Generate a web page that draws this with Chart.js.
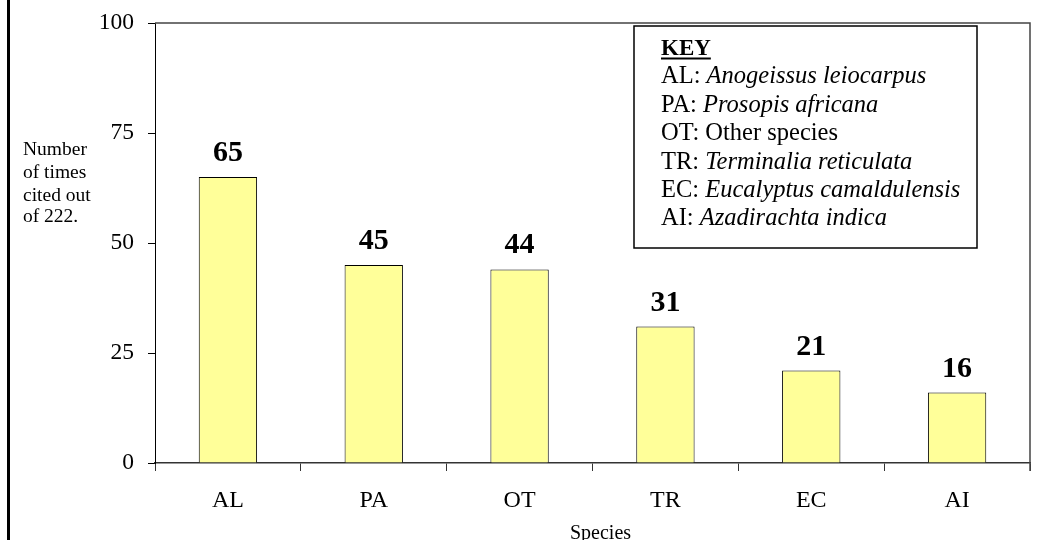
<!DOCTYPE html>
<html>
<head>
<meta charset="utf-8">
<script src="https://cdn.jsdelivr.net/npm/chart.js@4"></script>
<style>
  html, body { margin: 0; padding: 0; background: #fff; }
  #wrap { width: 1052px; height: 540px; position: relative; }
</style>
</head>
<body>
<div id="wrap"><canvas id="chart" width="1052" height="540"></canvas></div>
<script>
const categories = ['AL', 'PA', 'OT', 'TR', 'EC', 'AI'];
const timesCited = [65, 45, 44, 31, 21, 16];
const yMin = 0;
const yMax = 100;
const yStep = 25;
const keyCodes = ['AL', 'PA', 'OT', 'TR', 'EC', 'AI'];
const keyNames = ['Anogeissus leiocarpus', 'Prosopis africana', 'Other species',
    'Terminalia reticulata', 'Eucalyptus camaldulensis', 'Azadirachta indica'];
const keyItalic = [true, true, false, true, true, true];
const yTitleLines = ['Number', 'of times', 'cited out', 'of 222.'];
const xTitle = 'Species';

const serif = "'Liberation Serif', 'Times New Roman', serif";

const extras = {
    id: 'extras',
    afterDraw(chart) {
        const ctx = chart.ctx;
        const area = chart.chartArea;
        ctx.save();

        // frame line on the left edge
        ctx.fillStyle = '#000';
        ctx.fillRect(7, 0, 3, 540);

        // top and right edges of plot area
        ctx.strokeStyle = '#444';
        ctx.lineWidth = 1.5;
        ctx.beginPath();
        ctx.moveTo(area.left, area.top);
        ctx.lineTo(area.right, area.top);
        ctx.lineTo(area.right, area.bottom + 8);
        ctx.stroke();

        // value labels above bars
        ctx.fillStyle = '#000';
        ctx.font = 'bold 30px ' + serif;
        ctx.textAlign = 'center';
        ctx.textBaseline = 'alphabetic';
        chart.getDatasetMeta(0).data.forEach((bar, i) => {
            ctx.fillText(String(timesCited[i]), bar.x, bar.y - 16);
        });

        // y title
        ctx.font = '19.5px ' + serif;
        ctx.textAlign = 'left';
        const yBase = [155, 178, 201, 222];
        yTitleLines.forEach((t, i) => ctx.fillText(t, 23, yBase[i]));

        // x title
        ctx.font = '20px ' + serif;
        ctx.textAlign = 'center';
        ctx.fillText(xTitle, (area.left + area.right) / 2 + 8, 539);

        // key box
        ctx.fillStyle = '#fff';
        ctx.fillRect(634, 26, 343, 222);
        ctx.strokeStyle = '#000';
        ctx.lineWidth = 1.5;
        ctx.strokeRect(634, 26, 343, 222);
        ctx.fillStyle = '#000';
        ctx.textAlign = 'left';
        ctx.font = 'bold 23px ' + serif;
        ctx.fillText('KEY', 661, 55);
        const kw = ctx.measureText('KEY').width;
        ctx.fillRect(661, 57.5, kw, 2);
        keyCodes.forEach((code, i) => {
            const y = 83.3 + i * 28.4;
            ctx.font = '24.5px ' + serif;
            const pre = code + ': ';
            ctx.fillText(pre, 661, y);
            const w = ctx.measureText(pre).width;
            ctx.font = (keyItalic[i] ? 'italic ' : '') + '24.5px ' + serif;
            ctx.fillText(keyNames[i], 661 + w, y);
        });
        ctx.restore();
    }
};

new Chart(document.getElementById('chart'), {
    type: 'bar',
    data: {
        labels: categories,
        datasets: [{
            data: timesCited,
            backgroundColor: '#FFFF99',
            borderColor: '#000',
            borderWidth: 1,
            barPercentage: 0.4,
            categoryPercentage: 1.0
        }]
    },
    options: {
        responsive: false,
        animation: false,
        layout: { padding: { top: 23, right: 22, left: 0, bottom: 0 } },
        plugins: { legend: { display: false }, tooltip: { enabled: false } },
        scales: {
            x: {
                grid: { offset: true, drawOnChartArea: false, tickLength: 8, color: '#333' },
                border: { color: '#333', width: 1.5 },
                ticks: { color: '#000', font: { family: serif, size: 24 }, padding: 15 },
                afterFit: (s) => { s.height = 77; s.paddingLeft = 0; s.paddingRight = 0; }
            },
            y: {
                min: yMin,
                max: yMax,
                ticks: { stepSize: yStep, color: '#000', font: { family: serif, size: 23.5 }, padding: 14 },
                grid: { drawOnChartArea: false, tickLength: 7, color: '#000' },
                border: { color: '#000', width: 1 },
                afterFit: (s) => { s.width = 155; s.paddingTop = 0; s.paddingBottom = 0; }
            }
        }
    },
    plugins: [extras]
});
</script>
</body>
</html>
